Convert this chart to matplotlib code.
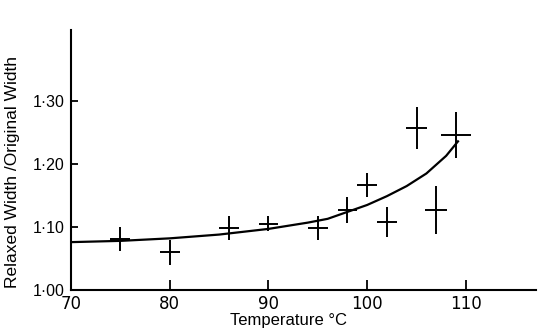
import numpy as np
import matplotlib
matplotlib.use('Agg')
import matplotlib.pyplot as plt

# measured points (temperature, ratio) with error half-widths
temp = [75, 80, 86, 90, 95, 98, 100, 102, 105, 107, 109]
ratio = [1.081, 1.060, 1.098, 1.105, 1.098, 1.127, 1.167, 1.108, 1.257, 1.127, 1.246]
ratio_err = [0.019, 0.020, 0.019, 0.012, 0.019, 0.020, 0.019, 0.024, 0.033, 0.038, 0.037]
temp_err = [1.0, 1.0, 1.0, 1.0, 1.0, 1.0, 1.0, 1.0, 1.1, 1.1, 1.5]

# fitted curve
curve_t = [70, 75, 80, 85, 90, 94, 96, 98, 100, 102, 104, 106, 108, 109.2]
curve_r = [1.076, 1.078, 1.082, 1.088, 1.097, 1.107, 1.113, 1.124, 1.135,
           1.149, 1.165, 1.185, 1.213, 1.236]

xticks = [70, 80, 90, 100, 110]
yticks = [1.00, 1.10, 1.20, 1.30]
ytick_labels = ['1\u00b700', '1\u00b710', '1\u00b720', '1\u00b730']

plt.rcParams['font.family'] = ['Liberation Sans', 'DejaVu Sans']

fig = plt.figure(figsize=(5.39, 3.32), dpi=100)
ax = fig.add_axes([0.1317, 0.1265, 0.8627, 0.783])

ax.errorbar(temp, ratio, yerr=ratio_err, xerr=temp_err, fmt='none',
            ecolor='black', elinewidth=1.4, capsize=0)
ax.plot(curve_t, curve_r, '-', color='black', linewidth=1.6)

ax.set_xlim(70, 117.1)
ax.set_ylim(1.00, 1.4127)
ax.set_xticks(xticks)
ax.set_xticklabels([str(t) for t in xticks], family='DejaVu Sans', fontsize=12)
ax.set_yticks(yticks)
ax.set_yticklabels(ytick_labels, fontsize=11.5)

for side in ('top', 'right'):
    ax.spines[side].set_visible(False)
for side in ('left', 'bottom'):
    ax.spines[side].set_linewidth(1.5)

ax.tick_params(axis='x', direction='in', length=7, width=1.3, pad=3.5)
ax.tick_params(axis='y', direction='in', length=5, width=1.3, pad=4.5)

ax.set_xlabel('Temperature \u00b0C', fontsize=12)
ax.xaxis.set_label_coords(0.467, -0.088)
ax.set_ylabel('Relaxed Width /Original Width', fontsize=12.5)
ax.yaxis.set_label_coords(-0.11, 0.454)

fig.savefig('out.png', dpi=100)
